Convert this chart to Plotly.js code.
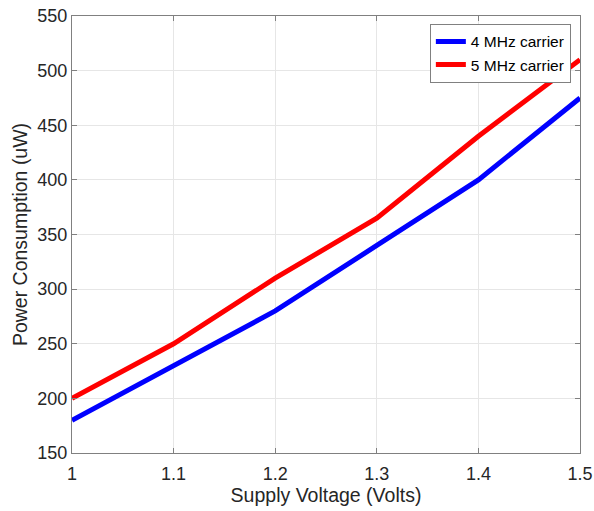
<!DOCTYPE html>
<html><head><meta charset="utf-8">
<script src="https://cdn.plot.ly/plotly-3.0.1.min.js"></script>
<style>html,body{margin:0;padding:0;background:#fff}#chart{width:594px;height:511px}</style>
</head><body><div id="chart"></div>
<script>
var voltage = [1.0, 1.1, 1.2, 1.3, 1.4, 1.5];
var power4MHz = [180, 230, 280, 340, 400, 475];
var power5MHz = [200, 250, 310, 365, 440, 510];
var xTicks = [1, 1.1, 1.2, 1.3, 1.4, 1.5];
var xTickLabels = ['1', '1.1', '1.2', '1.3', '1.4', '1.5'];
var yTicks = [150, 200, 250, 300, 350, 400, 450, 500, 550];

var FONT = 'Liberation Sans, Arial, sans-serif';
var traces = [
  {x: voltage, y: power4MHz, mode: 'lines', name: '4 MHz carrier', line: {color: '#0000ff', width: 5}},
  {x: voltage, y: power5MHz, mode: 'lines', name: '5 MHz carrier', line: {color: '#ff0000', width: 5}}
];
var axisCommon = {
  showline: true, mirror: 'ticks', linecolor: '#808080', linewidth: 1,
  ticks: 'inside', ticklen: 5, tickcolor: '#808080',
  showgrid: true, gridcolor: '#e6e6e6', zeroline: false,
  tickfont: {family: FONT, size: 18, color: '#262626'}
};
var layout = {
  width: 594, height: 511,
  margin: {l: 72, r: 14, t: 16, b: 58},
  paper_bgcolor: '#fff', plot_bgcolor: '#fff',
  showlegend: true,
  legend: {x: 0.982, y: 0.982, xanchor: 'right', yanchor: 'top', bgcolor: '#fff', bordercolor: '#808080', borderwidth: 1,
    font: {family: FONT, size: 15.5, color: '#000'}, tracegroupgap: 0, itemwidth: 30},
  xaxis: Object.assign({}, axisCommon, {range: [1, 1.5], tickvals: xTicks, ticktext: xTickLabels, ticklabelstandoff: 4,
    title: {text: 'Supply Voltage (Volts)', font: {family: FONT, size: 19.5, color: '#262626'}, standoff: 4}}),
  yaxis: Object.assign({}, axisCommon, {range: [150, 550], tickvals: yTicks,
    title: {text: 'Power Consumption (uW)', font: {family: FONT, size: 19.5, color: '#262626'}, standoff: 4}})
};
Plotly.newPlot('chart', traces, layout, {staticPlot: true});
</script></body></html>
